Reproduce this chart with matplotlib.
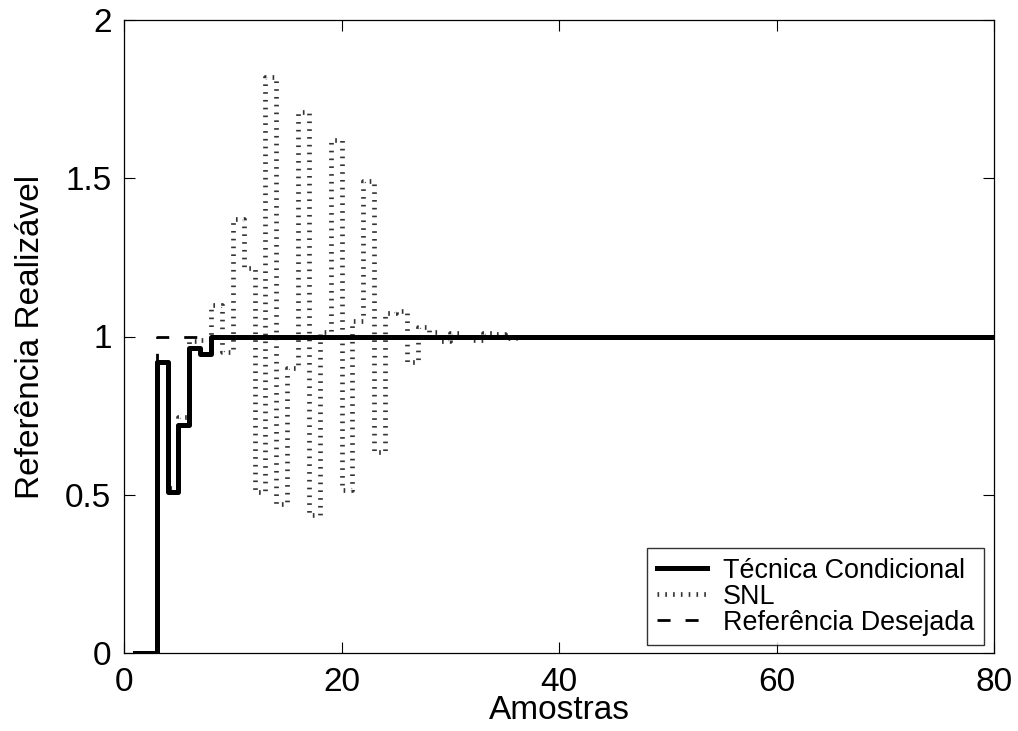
import matplotlib
matplotlib.use("Agg")
import matplotlib.pyplot as plt

plt.rcParams['font.family'] = ['Liberation Sans', 'DejaVu Sans']

amostras = list(range(1, 81))

tecnica = [0.0, 0.0, 0.92, 0.51, 0.72, 0.965, 0.945, 1.0, 1.0, 1.0,
           1.0, 1.0, 1.0, 1.0, 1.0, 1.0, 1.0, 1.0, 1.0, 1.0,
           1.0, 1.0, 1.0, 1.0, 1.0, 1.0, 1.0, 1.0, 1.0, 1.0,
           1.0, 1.0, 1.0, 1.0, 1.0, 1.0, 1.0, 1.0, 1.0, 1.0,
           1.0, 1.0, 1.0, 1.0, 1.0, 1.0, 1.0, 1.0, 1.0, 1.0,
           1.0, 1.0, 1.0, 1.0, 1.0, 1.0, 1.0, 1.0, 1.0, 1.0,
           1.0, 1.0, 1.0, 1.0, 1.0, 1.0, 1.0, 1.0, 1.0, 1.0,
           1.0, 1.0, 1.0, 1.0, 1.0, 1.0, 1.0, 1.0, 1.0, 1.0]

snl = [0.0, 0.0, 0.92, 0.52, 0.745, 0.985, 0.99, 1.10, 0.95, 1.37,
       1.215, 0.51, 1.82, 0.47, 0.90, 1.71, 0.435, 1.015, 1.62, 0.515,
       1.05, 1.49, 0.635, 1.075, 1.08, 0.92, 1.03, 1.015, 0.985, 1.012,
       1.0, 0.99, 1.012, 1.008, 0.995, 1.0, 1.0, 1.0, 1.0, 1.0,
       1.0, 1.0, 1.0, 1.0, 1.0, 1.0, 1.0, 1.0, 1.0, 1.0,
       1.0, 1.0, 1.0, 1.0, 1.0, 1.0, 1.0, 1.0, 1.0, 1.0,
       1.0, 1.0, 1.0, 1.0, 1.0, 1.0, 1.0, 1.0, 1.0, 1.0,
       1.0, 1.0, 1.0, 1.0, 1.0, 1.0, 1.0, 1.0, 1.0, 1.0]

referencia = [0.0, 0.0, 1.0, 1.0, 1.0, 1.0, 1.0, 1.0, 1.0, 1.0,
              1.0, 1.0, 1.0, 1.0, 1.0, 1.0, 1.0, 1.0, 1.0, 1.0,
              1.0, 1.0, 1.0, 1.0, 1.0, 1.0, 1.0, 1.0, 1.0, 1.0,
              1.0, 1.0, 1.0, 1.0, 1.0, 1.0, 1.0, 1.0, 1.0, 1.0,
              1.0, 1.0, 1.0, 1.0, 1.0, 1.0, 1.0, 1.0, 1.0, 1.0,
              1.0, 1.0, 1.0, 1.0, 1.0, 1.0, 1.0, 1.0, 1.0, 1.0,
              1.0, 1.0, 1.0, 1.0, 1.0, 1.0, 1.0, 1.0, 1.0, 1.0,
              1.0, 1.0, 1.0, 1.0, 1.0, 1.0, 1.0, 1.0, 1.0, 1.0]

xticks = [0, 20, 40, 60, 80]
yticks = [0, 0.5, 1, 1.5, 2]
yticklabels = ['0', '0.5', '1', '1.5', '2']

fig = plt.figure(figsize=(10.18, 7.31), dpi=100)
ax = fig.add_axes([124 / 1018, 1 - 653 / 731, (994 - 124) / 1018, (653 - 20) / 731])

ax.plot(amostras, tecnica, drawstyle='steps-post', color='black', lw=3.6,
        label='Técnica Condicional', zorder=3)
ax.plot(amostras, snl, drawstyle='steps-post', color='0.2', lw=3.4,
        linestyle=(0, (0.35, 1.3)), dash_capstyle='butt',
        label='SNL', zorder=2)
ax.plot(amostras, referencia, drawstyle='steps-post', color='black', lw=2.0,
        linestyle=(0, (4.7, 5.4)), label='Referência Desejada', zorder=2)

ax.set_xlim(0, 80)
ax.set_ylim(0, 2)
ax.set_xticks(xticks)
ax.set_yticks(yticks)
ax.set_yticklabels(yticklabels)
ax.tick_params(direction='in', length=8, width=0.8, labelsize=24,
               top=True, right=True)
ax.tick_params(axis='x', pad=10)
ax.tick_params(axis='y', pad=9)
for s in ax.spines.values():
    s.set_linewidth(0.9)

ax.set_xlabel('Amostras', fontsize=24, labelpad=-2)
ax.set_ylabel('Referência Realizável', fontsize=24, labelpad=14)

leg = ax.legend(loc='lower right', bbox_to_anchor=(0.988, 0.0126),
                borderaxespad=0, fontsize=19.4, frameon=True, fancybox=False,
                edgecolor='black', handlelength=1.85, handletextpad=0.6,
                labelspacing=0.0, borderpad=0.35)
leg.get_frame().set_linewidth(1.0)

fig.savefig('out.png', dpi=100)
